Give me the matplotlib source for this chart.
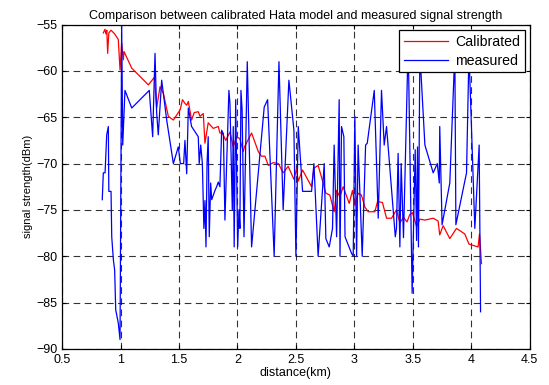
import matplotlib
matplotlib.use("Agg")
import matplotlib.pyplot as plt

plt.rcParams["font.family"] = ["Liberation Sans", "DejaVu Sans"]

# calibrated Hata model (red)
cal_x = [0.853, 0.867, 0.875, 0.883, 0.890, 0.900, 0.919, 0.950, 0.981, 0.996,
         1.010, 1.024, 1.030, 1.096, 1.238, 1.289, 1.309, 1.338, 1.366, 1.409,
         1.452, 1.510, 1.530, 1.551, 1.566, 1.580, 1.608, 1.630, 1.665, 1.680,
         1.708, 1.722, 1.750, 1.793, 1.836, 1.850, 1.870, 1.900, 1.936, 1.964,
         1.993, 2.020, 2.050, 2.060, 2.121, 2.178, 2.205, 2.235, 2.264, 2.306,
         2.350, 2.391, 2.434, 2.483, 2.505, 2.520, 2.557, 2.634, 2.654, 2.690,
         2.733, 2.756, 2.790, 2.827, 2.848, 2.876, 2.904, 2.956, 2.984, 3.004,
         3.032, 3.060, 3.090, 3.118, 3.175, 3.198, 3.240, 3.275, 3.318, 3.360,
         3.389, 3.420, 3.450, 3.474, 3.497, 3.532, 3.560, 3.603, 3.674, 3.716,
         3.730, 3.759, 3.816, 3.873, 3.944, 3.980, 4.058, 4.070, 4.087]
cal_y = [-55.9, -55.5, -56.0, -55.6, -58.1, -55.9, -55.6, -56.0, -56.6, -59.9,
         -57.0, -58.8, -57.9, -59.7, -61.5, -60.7, -64.0, -61.7, -62.4, -64.9,
         -65.3, -64.2, -63.1, -63.5, -63.7, -63.3, -65.3, -64.5, -64.4, -64.9,
         -64.6, -67.8, -65.6, -66.2, -66.0, -66.7, -66.7, -67.5, -66.6, -68.2,
         -67.1, -67.3, -68.7, -68.2, -66.7, -68.7, -69.2, -69.2, -70.2, -69.9,
         -70.0, -71.0, -70.3, -71.7, -70.6, -71.9, -70.7, -72.5, -70.5, -70.2,
         -72.1, -73.2, -73.4, -75.2, -72.9, -73.6, -72.5, -74.3, -72.9, -74.5,
         -73.2, -73.4, -74.7, -75.2, -75.2, -74.1, -74.2, -75.9, -75.9, -75.0,
         -76.4, -75.8, -76.3, -75.5, -75.3, -76.8, -76.0, -76.1, -75.9, -76.2,
         -77.7, -76.7, -78.1, -77.0, -77.6, -78.7, -79.0, -77.6, -80.8]

# measured signal strength (blue)
mea_x = [0.844, 0.853, 0.868, 0.882, 0.896, 0.900, 0.919, 0.925, 0.939, 0.950,
         0.959, 0.981, 0.996, 1.010, 1.019, 1.038, 1.096, 1.246, 1.275, 1.295,
         1.309, 1.323, 1.352, 1.395, 1.452, 1.494, 1.512, 1.540, 1.551, 1.566,
         1.580, 1.608, 1.665, 1.673, 1.686, 1.700, 1.713, 1.722, 1.731, 1.740,
         1.750, 1.759, 1.771, 1.780, 1.808, 1.822, 1.836, 1.850, 1.865, 1.880,
         1.893, 1.927, 1.936, 1.956, 1.964, 1.972, 1.985, 2.002, 2.013, 2.021,
         2.030, 2.040, 2.056, 2.084, 2.121, 2.229, 2.258, 2.314, 2.355, 2.391,
         2.440, 2.483, 2.500, 2.520, 2.557, 2.634, 2.654, 2.690, 2.742, 2.756,
         2.785, 2.813, 2.827, 2.848, 2.870, 2.877, 2.890, 2.910, 2.920, 2.976,
         2.990, 3.004, 3.019, 3.032, 3.067, 3.096, 3.110, 3.170, 3.204, 3.232,
         3.255, 3.275, 3.350, 3.360, 3.374, 3.389, 3.400, 3.420, 3.460, 3.494,
         3.520, 3.532, 3.540, 3.548, 3.560, 3.603, 3.674, 3.709, 3.726, 3.730,
         3.750, 3.816, 3.859, 3.868, 3.959, 3.980, 4.030, 4.067, 4.079]
mea_y = [-73.9, -71.0, -71.0, -66.9, -66.0, -73.0, -73.0, -77.9, -80.4, -81.5,
         -85.8, -87.2, -89.0, -55.0, -68.0, -62.1, -64.0, -62.1, -67.1, -58.1,
         -64.5, -66.9, -61.0, -65.3, -70.0, -68.2, -70.0, -70.0, -67.5, -71.1,
         -64.0, -66.0, -67.1, -70.0, -68.0, -70.0, -77.0, -74.0, -79.0, -70.0,
         -67.1, -77.9, -72.1, -73.9, -72.9, -72.5, -72.0, -72.5, -66.4, -66.8,
         -76.1, -62.1, -63.5, -75.0, -66.0, -79.0, -63.1, -79.0, -75.0, -77.0,
         -62.1, -64.2, -77.9, -59.0, -79.0, -63.9, -63.1, -80.0, -59.0, -75.0,
         -61.0, -66.4, -80.0, -66.0, -73.0, -73.0, -70.0, -80.0, -70.0, -78.1,
         -79.0, -77.0, -68.0, -77.9, -63.1, -80.0, -66.0, -67.1, -77.9, -79.7,
         -80.0, -64.9, -80.0, -68.0, -80.0, -68.0, -67.8, -62.1, -75.9, -62.1,
         -68.0, -66.0, -77.9, -77.0, -68.9, -79.0, -70.0, -78.0, -57.0, -84.0,
         -68.5, -78.3, -68.2, -79.0, -58.0, -68.0, -71.0, -70.0, -72.1, -66.0,
         -76.6, -72.1, -58.0, -76.6, -71.0, -58.0, -77.0, -68.0, -86.0]

fig = plt.figure(figsize=(5.49, 3.85), dpi=100)
ax = fig.add_axes([0.113, 0.094, 0.852, 0.842])

ax.plot(cal_x, cal_y, color="red", linewidth=0.9, label="Calibrated")
ax.plot(mea_x, mea_y, color="blue", linewidth=0.9, label="measured")

ax.set_xlim(0.5, 4.5)
ax.set_ylim(-90, -55)
ax.set_xticks([0.5, 1, 1.5, 2, 2.5, 3, 3.5, 4, 4.5])
ax.set_xticklabels(["0.5", "1", "1.5", "2", "2.5", "3", "3.5", "4", "4.5"])
ax.set_yticks(range(-90, -54, 5))
ax.grid(True, color="black", linestyle=(0, (6, 4)), linewidth=0.8, alpha=0.8)
ax.tick_params(direction="in", top=True, right=True, labelsize=9, length=3)
for s in ax.spines.values():
    s.set_linewidth(0.9)

ax.set_title("Comparison between calibrated Hata model and measured signal strength",
             fontsize=9, pad=4)
ax.set_xlabel("distance(km)", fontsize=9, labelpad=1)
ax.set_ylabel("signal strength(dBm)", fontsize=8, labelpad=2)

leg = ax.legend(loc="upper right", fontsize=10.2, fancybox=False, framealpha=1,
                edgecolor="black", handlelength=3.1, handletextpad=0.5,
                borderaxespad=0.35, borderpad=0.35, labelspacing=0.35)
leg.get_frame().set_linewidth(0.9)

fig.savefig("out.png", dpi=100)
